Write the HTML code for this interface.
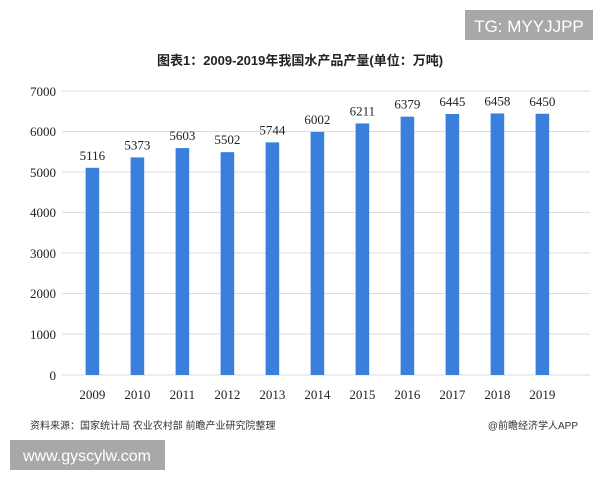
<!DOCTYPE html>
<html><head><meta charset="utf-8"><style>
body{margin:0;background:#fff;width:600px;height:480px;overflow:hidden;position:relative;font-family:"Liberation Serif","Noto Serif CJK SC",serif}
</style></head><body>
<svg width="600" height="480" style="position:absolute;left:0;top:0">
<rect x="465" y="10" width="128" height="30" fill="#a8a8a8"/>
<text x="529" y="32" font-family="Liberation Sans, sans-serif" font-size="17" fill="#fff" text-anchor="middle">TG: MYYJJPP</text>
<text x="300" y="65" font-family="Liberation Sans, Noto Sans CJK SC, sans-serif" font-size="13" font-weight="bold" fill="#222" text-anchor="middle">图表1：2009-2019年我国水产品产量(单位：万吨)</text>
<g stroke="#dcdcdc" stroke-width="1">
<line x1="62" x2="590" y1="91" y2="91"/><line x1="62" x2="590" y1="131.5" y2="131.5"/><line x1="62" x2="590" y1="172" y2="172"/><line x1="62" x2="590" y1="212.5" y2="212.5"/><line x1="62" x2="590" y1="253" y2="253"/><line x1="62" x2="590" y1="293.5" y2="293.5"/><line x1="62" x2="590" y1="334" y2="334"/><line x1="62" x2="590" y1="375" y2="375"/>
</g>
<g font-size="13" fill="#222" text-anchor="end" font-family="Liberation Serif, serif">
<text x="56" y="96">7000</text><text x="56" y="136">6000</text><text x="56" y="177">5000</text><text x="56" y="217">4000</text><text x="56" y="258">3000</text><text x="56" y="298">2000</text><text x="56" y="339">1000</text><text x="56" y="380">0</text>
</g>
<g fill="#3a7fdc" id="bars"></g>
<g id="labels" font-size="13" fill="#222" text-anchor="middle"></g>
<text x="30" y="429" font-family="Liberation Sans, Noto Sans CJK SC, sans-serif" font-size="10" fill="#333">资料来源：国家统计局 农业农村部 前瞻产业研究院整理</text>
<text x="578" y="429" font-family="Liberation Sans, Noto Sans CJK SC, sans-serif" font-size="10" fill="#333" text-anchor="end">@前瞻经济学人APP</text>
<rect x="10" y="440" width="155" height="30" fill="#a8a8a8"/>
<text x="87" y="461" font-family="Liberation Sans, sans-serif" font-size="16" fill="#fff" text-anchor="middle">www.gyscylw.com</text>
</svg>
<script>
var v=[5116,5373,5603,5502,5744,6002,6211,6379,6445,6458,6450],b=document.getElementById('bars'),l=document.getElementById('labels'),ns='http://www.w3.org/2000/svg';
v.forEach(function(d,i){var cx=92.4+45*i,h=d*0.0405,y=375-h;
var r=document.createElementNS(ns,'rect');r.setAttribute('x',cx-6.8);r.setAttribute('y',y);r.setAttribute('width',13.6);r.setAttribute('height',h);b.appendChild(r);
var t=document.createElementNS(ns,'text');t.setAttribute('x',cx);t.setAttribute('y',y-8);t.textContent=d;l.appendChild(t);
var t2=document.createElementNS(ns,'text');t2.setAttribute('x',cx);t2.setAttribute('y',399);t2.textContent=2009+i;l.appendChild(t2);});
</script>
</body></html>
